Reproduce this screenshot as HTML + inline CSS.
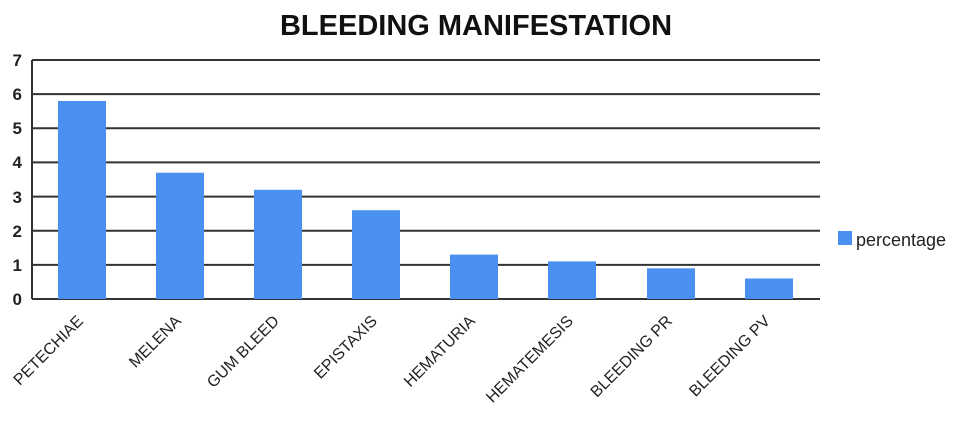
<!DOCTYPE html>
<html><head><style>body{margin:0;background:#fff}svg{display:block}</style></head><body>
<svg width="960" height="424" xmlns="http://www.w3.org/2000/svg" font-family="Liberation Sans, sans-serif">
<text x="476" y="35" text-anchor="middle" font-size="29" font-weight="bold" fill="#111">BLEEDING MANIFESTATION</text>
<g stroke="#333" stroke-width="2">
<line x1="32" y1="60" x2="820" y2="60"/>
<line x1="32" y1="94.1" x2="820" y2="94.1"/>
<line x1="32" y1="128.3" x2="820" y2="128.3"/>
<line x1="32" y1="162.4" x2="820" y2="162.4"/>
<line x1="32" y1="196.6" x2="820" y2="196.6"/>
<line x1="32" y1="230.7" x2="820" y2="230.7"/>
<line x1="32" y1="264.9" x2="820" y2="264.9"/>
<line x1="32" y1="299" x2="820" y2="299"/>
<line x1="32" y1="60" x2="32" y2="299"/>
</g>
<g font-size="17" fill="#222" text-anchor="end" font-weight="bold">
<text x="22" y="66">7</text><text x="22" y="100">6</text><text x="22" y="134">5</text><text x="22" y="168">4</text><text x="22" y="203">3</text><text x="22" y="237">2</text><text x="22" y="271">1</text><text x="22" y="305">0</text>
</g>
<g fill="#4a90f0">
<rect x="58" y="101" width="48" height="198"/>
<rect x="156" y="172.7" width="48" height="126.3"/>
<rect x="254" y="189.8" width="48" height="109.2"/>
<rect x="352" y="210.2" width="48" height="88.8"/>
<rect x="450" y="254.6" width="48" height="44.4"/>
<rect x="548" y="261.4" width="48" height="37.6"/>
<rect x="647" y="268.3" width="48" height="30.7"/>
<rect x="745" y="278.5" width="48" height="20.5"/>
</g>
<g font-size="16" fill="#222" text-anchor="end">
<text transform="translate(84,322) rotate(-45)">PETECHIAE</text>
<text transform="translate(182,322) rotate(-45)">MELENA</text>
<text transform="translate(280,322) rotate(-45)">GUM BLEED</text>
<text transform="translate(378,322) rotate(-45)">EPISTAXIS</text>
<text transform="translate(476,322) rotate(-45)">HEMATURIA</text>
<text transform="translate(574,322) rotate(-45)">HEMATEMESIS</text>
<text transform="translate(673,322) rotate(-45)">BLEEDING PR</text>
<text transform="translate(771,322) rotate(-45)">BLEEDING PV</text>
</g>
<rect x="838" y="231" width="14" height="14" fill="#4a90f0"/>
<text x="856" y="246" font-size="18" fill="#222">percentage</text>
</svg>
</body></html>
